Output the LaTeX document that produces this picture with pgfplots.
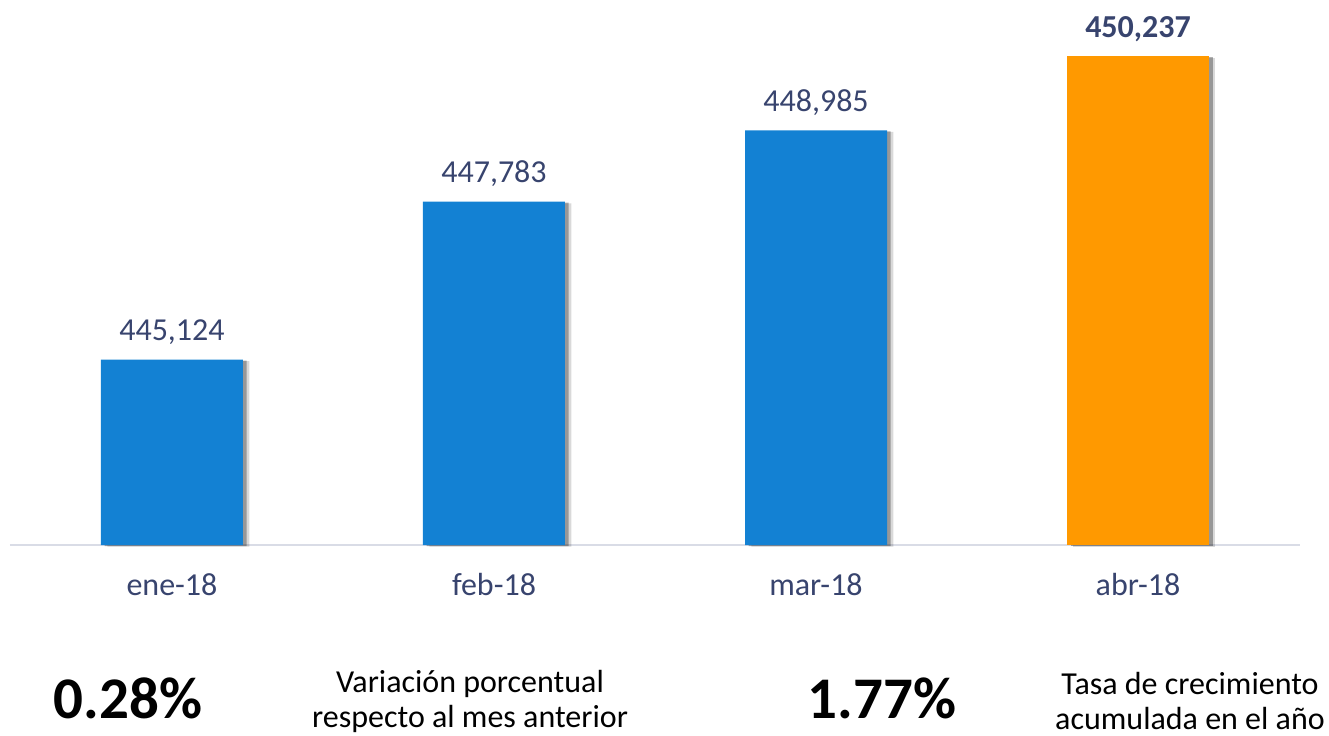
\documentclass[border=0pt]{standalone}
\usepackage{fontspec}
\setmainfont{Carlito}
\usepackage{pgfplots}
\pgfplotsset{compat=1.18}

\definecolor{barblue}{RGB}{19,129,211}
\definecolor{barorange}{RGB}{255,153,0}
\definecolor{lbl}{RGB}{56,68,110}
\definecolor{baseln}{RGB}{217,220,230}

\pgfplotstableread{
x y
0 445124
1 447783
2 448985
}\blues
\pgfplotstableread{
x y
3 450237
}\orange

\begin{document}
\begin{tikzpicture}
\useasboundingbox (-5pt,-95pt) rectangle (659.5pt,272.5pt);
\begin{axis}[
  at={(0pt,0pt)}, anchor=south west,
  scale only axis, width=645pt, height=244.5pt,
  xmin=-0.503, xmax=3.503,
  ymin=442000, ymax=450237,
  ybar, bar width=71pt, bar shift=0pt,
  axis x line*=bottom, axis y line=none,
  x axis line style={draw=baseln, line width=1pt},
  xtick={0,1,2,3},
  xticklabels={ene-18,feb-18,mar-18,abr-18},
  ytick=\empty, major tick length=0pt,
  xticklabel style={font=\fontsize{16}{18}\selectfont, text=lbl, anchor=base, yshift=-25pt},
  clip mode=individual,
  lbls/.style={nodes near coords={\pgfmathprintnumber[fixed,precision=0,1000 sep={,},assume math mode=true]{\pgfplotspointmeta}},
    every node near coord/.append style={font=\fontsize{16}{18}\selectfont, text=lbl, anchor=base, yshift=9.5pt}},
]
% shadows
\addplot[fill=black, fill opacity=0.15, draw=none, bar shift=3.2pt, yshift=-0.8pt, forget plot] table {\blues};
\addplot[fill=black, fill opacity=0.3, draw=none, bar shift=1.8pt, yshift=-0.5pt, forget plot] table {\blues};
\addplot[fill=black, fill opacity=0.15, draw=none, bar shift=3.2pt, yshift=-0.8pt, forget plot] table {\orange};
\addplot[fill=black, fill opacity=0.3, draw=none, bar shift=1.8pt, yshift=-0.5pt, forget plot] table {\orange};
% bars
\addplot[fill=barblue, draw=none, lbls] table {\blues};
\addplot[fill=barorange, draw=none, lbls,
  every node near coord/.append style={font=\bfseries\fontsize{16}{18}\selectfont}] table {\orange};
\end{axis}
\node[font=\bfseries\fontsize{29.5}{32}\selectfont] at (59pt,-76.5pt) {0.28\%};
\node[align=center, font=\fontsize{16}{17.5}\selectfont] at (230pt,-78pt) {Variación porcentual\\respecto al mes anterior};
\node[font=\bfseries\fontsize{29.5}{32}\selectfont] at (436pt,-76.5pt) {1.77\%};
\node[align=center, font=\fontsize{16}{17.5}\selectfont] at (590pt,-78pt) {Tasa de crecimiento\\acumulada en el año};
\end{tikzpicture}
\end{document}
